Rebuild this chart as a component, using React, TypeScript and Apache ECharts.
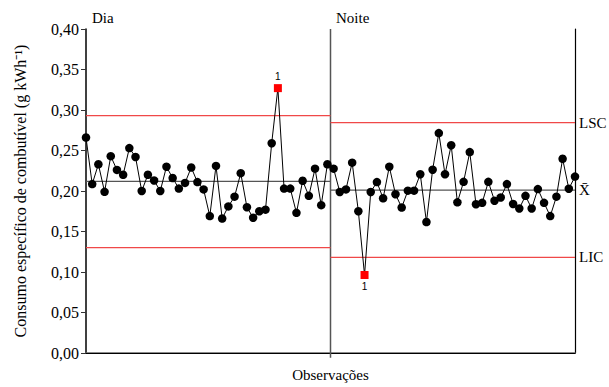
import React, { useEffect, useRef } from "react";
import * as echarts from "echarts";

// Observations (g kWh-1), Dia: 1..40, Noite: 41..80
const diaValues = [
  0.266, 0.2085, 0.233, 0.199, 0.243, 0.226, 0.22, 0.253, 0.242, 0.2,
  0.22, 0.213, 0.2, 0.23, 0.216, 0.203, 0.21, 0.229, 0.211, 0.202,
  0.169, 0.231, 0.166, 0.181, 0.193, 0.222, 0.18, 0.167, 0.175, 0.177,
  0.259, 0.327, 0.203, 0.203, 0.173, 0.2126, 0.194, 0.2276, 0.1825, 0.233,
];
const noiteValues = [
  0.2276, 0.1988, 0.202, 0.235, 0.175, 0.0963, 0.1988, 0.211, 0.191, 0.23,
  0.196, 0.1796, 0.2004, 0.2004, 0.2207, 0.1617, 0.2263, 0.2715, 0.2207, 0.2565,
  0.186, 0.2113, 0.248, 0.1837, 0.1854, 0.2113, 0.188, 0.192, 0.2085, 0.184,
  0.1784, 0.194, 0.1784, 0.2024, 0.1854, 0.169, 0.193, 0.2398, 0.2028, 0.2178,
];
const outOfControl = [32, 46];

const periodNames = ["Dia", "Noite"];
const periodStart = [1, 40.5];
const periodEnd = [40.5, 80];
const lscValues = [0.293, 0.2845];
const meanValues = [0.212, 0.201];
const licValues = [0.13, 0.118];
const limitLabels = ["LSC", "X\u0304", "LIC"];

const yTicks = [0, 0.05, 0.1, 0.15, 0.2, 0.25, 0.3, 0.35, 0.4];

const SERIF = "'Liberation Serif', 'Times New Roman', serif";

export default function App() {
  const ref = useRef<HTMLDivElement>(null);
  useEffect(() => {
    document.body.style.margin = "0";
    const chart = echarts.init(ref.current!, null, { renderer: "svg" });
    const all = [...diaValues, ...noiteValues];
    const mainData = all.map((v, i) => {
      const idx = i + 1;
      if (outOfControl.includes(idx)) {
        return {
          value: [idx, v],
          symbol: "rect",
          symbolSize: 8,
          itemStyle: { color: "#ff0000" },
          label: {
            show: true,
            formatter: "1",
            position: v > 0.2 ? "top" : "bottom",
            distance: 3,
            color: "#000",
            fontSize: 10,
            fontFamily: "'Liberation Sans', Arial, sans-serif",
          },
        };
      }
      return [idx, v];
    });

    const limitSeries: any[] = [];
    periodNames.forEach((p, k) => {
      const isLast = k === periodNames.length - 1;
      const sets = [
        { vals: lscValues, color: "#f04848", lbl: limitLabels[0] },
        { vals: meanValues, color: "#555555", lbl: limitLabels[1] },
        { vals: licValues, color: "#f04848", lbl: limitLabels[2] },
      ];
      sets.forEach((s) => {
        limitSeries.push({
          type: "line",
          data: [
            [periodStart[k], s.vals[k]],
            [periodEnd[k], s.vals[k]],
          ],
          showSymbol: false,
          symbol: "none",
          silent: true,
          z: 1,
          lineStyle: { color: s.color, width: 1.2 },
          endLabel: isLast
            ? {
                show: true,
                formatter: s.lbl,
                distance: 4,
                color: "#000",
                fontSize: 15,
                fontFamily: SERIF,
              }
            : undefined,
        });
      });
    });

    chart.setOption({
      animation: false,
      grid: { left: 86, right: 34, top: 29, bottom: 29 },
      xAxis: [
        {
          type: "value",
          min: 1,
          max: 80,
          name: "Observações",
          nameLocation: "middle",
          nameGap: 14,
          nameTextStyle: { fontFamily: SERIF, fontSize: 15, color: "#000" },
          axisLine: { show: true, lineStyle: { color: "#666", width: 1.5 } },
          axisTick: { show: false },
          axisLabel: { show: false },
          splitLine: { show: false },
        },
        {
          type: "value",
          position: "top",
          min: 1,
          max: 80,
          axisLine: { show: true, lineStyle: { color: "#000", width: 1 } },
          axisTick: { show: false },
          axisLabel: { show: false },
          splitLine: { show: false },
        },
      ],
      yAxis: [
        {
          type: "value",
          min: 0,
          max: 0.4,
          interval: 0.05,
          name: "Consumo específico de combutível (g kWh⁻¹)",
          nameLocation: "middle",
          nameGap: 58,
          nameTextStyle: { fontFamily: SERIF, fontSize: 16, color: "#000" },
          axisLine: { show: true, lineStyle: { color: "#000", width: 1.5 } },
          axisTick: { show: true, length: 5, lineStyle: { color: "#333" } },
          axisLabel: {
            fontFamily: SERIF,
            fontSize: 16,
            color: "#000",
            margin: 7,
            formatter: (v: number) => {
              const t = yTicks.find((x) => Math.abs(x - v) < 1e-9);
              return (t ?? v).toFixed(2).replace(".", ",");
            },
          },
          splitLine: { show: false },
        },
        {
          type: "value",
          position: "right",
          min: 0,
          max: 0.4,
          interval: 0.05,
          axisLine: { show: true, lineStyle: { color: "#000", width: 1.2 } },
          axisTick: { show: false },
          axisLabel: { show: false },
          splitLine: { show: false },
        },
      ],
      graphic: [
        {
          type: "text",
          left: 92,
          top: 10,
          style: { text: periodNames[0], font: `15px ${SERIF}`, fill: "#000" },
        },
        {
          type: "text",
          left: 336,
          top: 10,
          style: { text: periodNames[1], font: `15px ${SERIF}`, fill: "#000" },
        },
      ],
      series: [
        {
          type: "line",
          data: [
            [periodEnd[0], -0.006],
            [periodEnd[0], 0.4],
          ],
          showSymbol: false,
          symbol: "none",
          silent: true,
          clip: false,
          z: 1,
          lineStyle: { color: "#555", width: 1.5 },
        },
        ...limitSeries,
        {
          type: "line",
          data: mainData,
          symbol: "circle",
          symbolSize: 8.5,
          z: 5,
          itemStyle: { color: "#000" },
          lineStyle: { color: "#000", width: 1 },
        },
      ],
    });
    return () => chart.dispose();
  }, []);
  return <div ref={ref} style={{ width: 609, height: 387 }} />;
}
